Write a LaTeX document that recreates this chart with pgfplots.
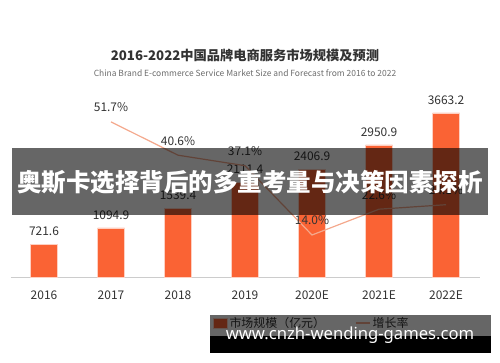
\documentclass[border=0pt]{standalone}
\usepackage{pgfplots}
\pgfplotsset{compat=1.18}
\usepackage{fontspec}
\setmainfont{Noto Sans CJK SC}
\newfontfamily\wmfont{Noto Sans}
\definecolor{barc}{HTML}{FA6334}
\definecolor{linec}{HTML}{F4A88C}
\definecolor{txt}{HTML}{333333}
\begin{document}
\begin{tikzpicture}[x=1bp,y=1bp]
\path[use as bounding box] (0,0) rectangle (500,362);
\begin{axis}[
  at={(10.5bp,85bp)}, anchor=south west,
  scale only axis, width=469bp, height=179.2bp,
  xmin=-0.5, xmax=6.5, ymin=0, ymax=4000,
  axis x line*=bottom, axis y line=none,
  x axis line style={draw=gray!40, line width=0.8bp, -},
  xtick=data, xtick style={draw=none},
  xticklabels={2016,2017,2018,2019,2020E,2021E,2022E},
  xticklabel style={font=\fontsize{12}{14}\selectfont, text=txt, yshift=-6bp},
  ybar, bar width=27bp,
  nodes near coords,
  nodes near coords style={font=\fontsize{12}{14}\selectfont, text=txt, yshift=5bp,
    /pgf/number format/.cd, fixed, precision=1, fixed zerofill, 1000 sep={}, assume math mode=true},
  legend style={at={(0.425,-0.257)}, anchor=west, draw=none, fill=none,
    legend columns=2, font=\fontsize{12}{14}\selectfont, text=txt,
    /tikz/every even column/.append style={column sep=28bp}},
  legend image code/.code={\fill[#1] (0bp,-5bp) rectangle (14bp,5bp);},
]
\addplot[fill=barc, draw=white!70!barc, line width=0.5bp] coordinates {
  (0,721.6) (1,1094.9) (2,1539.4) (3,2111.4) (4,2406.9) (5,2950.9) (6,3663.2)};
\addlegendentry{市场规模（亿元）}
\addlegendimage{legend image code/.code={\draw[linec, line width=1.5bp] (0bp,0bp) -- (14bp,0bp);}}
\addlegendentry{增长率}
\end{axis}
\begin{axis}[
  at={(10.5bp,85bp)}, anchor=south west,
  scale only axis, width=469bp, height=179.2bp,
  xmin=-0.5, xmax=6.5, ymin=0, ymax=59.73,
  axis lines=none,
  nodes near coords={\pgfmathprintnumber[fixed,precision=1,fixed zerofill,assume math mode=true]{\pgfplotspointmeta}\%},
  nodes near coords style={font=\fontsize{12}{14}\selectfont, text=txt, yshift=6bp},
]
\addplot[linec, line width=1.2bp, mark=none] coordinates {
  (1,51.7) (2,40.6) (3,37.1) (4,14.0) (5,22.6) (6,24.1)};
\end{axis}
% title
\node[font=\bfseries\fontsize{13.3}{15}\selectfont, text=txt] at (245,307) {2016-2022中国品牌电商服务市场规模及预测};
\node[font=\fontsize{8.5}{10}\selectfont, text=gray!85!black] at (245,289) {China Brand E-commerce Service Market Size and Forecast from 2016 to 2022};
% banner overlay
\fill[black, opacity=0.6] (12,147) rectangle (488,214);
\node[font=\bfseries\fontsize{24.6}{28}\selectfont, text=white] at (250,180) {奥斯卡选择背后的多重考量与决策因素探析};
% watermark
\fill[black, opacity=0.6] (210,26) rectangle (491,47);
\fill[black] (210,9) rectangle (491,26);
\node[font=\wmfont\bfseries\fontsize{16.7}{18}\selectfont, text=white] at (350,27) {www.cnzh-wending-games.com};
\end{tikzpicture}
\end{document}
